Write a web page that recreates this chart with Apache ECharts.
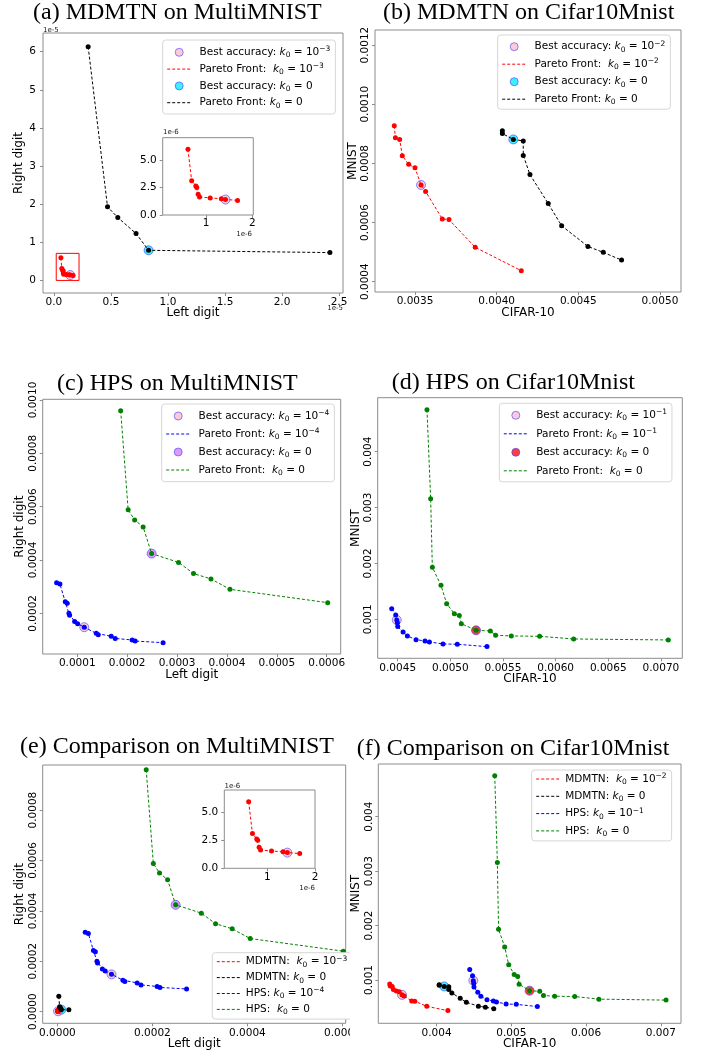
<!DOCTYPE html>
<html>
<head>
<meta charset="utf-8">
<title>Pareto fronts</title>
<script src="https://cdn.jsdelivr.net/npm/echarts@6/dist/echarts.min.js"></script>
<style>
    body { margin: 0; background: #fff; }
    #page { position: relative; width: 701px; height: 1052px; overflow: hidden; background: #fff; }
    .p { position: absolute; }
</style>
</head>
<body>
<div id="page">
    <div id="pa" class="p" style="left:0;top:0;width:350px;height:340px"></div>
    <div id="pb" class="p" style="left:347px;top:0;width:354px;height:340px"></div>
    <div id="pc" class="p" style="left:0;top:340px;width:350px;height:350px"></div>
    <div id="pd" class="p" style="left:347px;top:340px;width:354px;height:350px"></div>
    <div id="pe" class="p" style="left:0;top:680px;width:350px;height:372px"></div>
    <div id="pf" class="p" style="left:347px;top:680px;width:354px;height:372px"></div>
</div>
<script>
// ---- MDMTN on MultiMNIST ----
// k0 = 1e-3 (red)
var mmMdmtnK3X = [0.61e-6, 0.69e-6, 0.78e-6, 0.80e-6, 0.83e-6, 0.86e-6, 1.09e-6, 1.33e-6, 1.42e-6, 1.68e-6];
var mmMdmtnK3Y = [5.95e-6, 3.10e-6, 2.63e-6, 2.50e-6, 1.88e-6, 1.63e-6, 1.55e-6, 1.47e-6, 1.41e-6, 1.32e-6];
// k0 = 0 (black)
var mmMdmtnK0X = [0.30e-5, 0.47e-5, 0.56e-5, 0.72e-5, 0.83e-5, 2.42e-5];
var mmMdmtnK0Y = [6.13e-5, 1.93e-5, 1.65e-5, 1.23e-5, 0.79e-5, 0.73e-5];
var mmMdmtnBestK3 = [1.42e-6, 1.40e-6];
var mmMdmtnBestK0 = [0.83e-5, 0.79e-5];
// red box around the zoomed part
var zoomBoxX = [0.02e-5, 0.22e-5];
var zoomBoxY = [0, 0.71e-5];

// ---- HPS on MultiMNIST ----
// k0 = 1e-4 (blue)
var mmHpsK4X = [0.0000586, 0.0000652, 0.0000759, 0.0000799, 0.0000833, 0.0000846, 0.0000947, 0.0001007,
    0.000114, 0.000138, 0.000142, 0.000168, 0.000176, 0.000210, 0.000216, 0.000272];
var mmHpsK4Y = [0.000315, 0.000310, 0.000243, 0.000238, 0.000200, 0.000193, 0.000169, 0.000161,
    0.000148, 0.000125, 0.000120, 0.000114, 0.000106, 0.000100, 0.000096, 0.000090];
// k0 = 0 (green)
var mmHpsK0X = [0.000187, 0.000202, 0.000215, 0.000232, 0.000249, 0.000303, 0.000333, 0.000368, 0.000406, 0.000602];
var mmHpsK0Y = [0.000960, 0.000588, 0.000550, 0.000524, 0.000424, 0.000391, 0.000349, 0.000329, 0.000290, 0.000240];
var mmHpsBestK4 = [0.000114, 0.000148];
var mmHpsBestK0 = [0.000249, 0.000424];

// ---- MDMTN on Cifar10Mnist ----
// k0 = 1e-2 (red)
var cmMdmtnK2X = [0.003373, 0.003380, 0.003406, 0.003422, 0.003461, 0.003500, 0.003537, 0.003565,
    0.003667, 0.003708, 0.003869, 0.004151];
var cmMdmtnK2Y = [0.000927, 0.000887, 0.000881, 0.000826, 0.000797, 0.000785, 0.000727, 0.000705,
    0.000612, 0.000610, 0.000516, 0.000437];
// k0 = 0 (black)
var cmMdmtnK0X = [0.004035, 0.004035, 0.004102, 0.004163, 0.004163, 0.004204, 0.004316, 0.004398,
    0.004559, 0.004653, 0.004765];
var cmMdmtnK0Y = [0.000910, 0.000901, 0.000881, 0.000876, 0.000827, 0.000762, 0.000664, 0.000589,
    0.000519, 0.000499, 0.000473];
var cmMdmtnBestK2 = [0.003537, 0.000727];
var cmMdmtnBestK0 = [0.004102, 0.000881];

// ---- HPS on Cifar10Mnist ----
// k0 = 1e-1 (blue)
var cmHpsK1X = [0.004443, 0.004481, 0.004491, 0.004497, 0.004500, 0.004551, 0.004592, 0.004674,
    0.004759, 0.004801, 0.004930, 0.005066, 0.005348];
var cmHpsK1Y = [0.001191, 0.001078, 0.000988, 0.000940, 0.000869, 0.000773, 0.000702, 0.000636,
    0.000612, 0.000595, 0.000559, 0.000553, 0.000511];
// k0 = 0 (green)
var cmHpsK0X = [0.004778, 0.004813, 0.004829, 0.004911, 0.004965, 0.005038, 0.005085, 0.005104,
    0.005244, 0.005380, 0.005430, 0.005579, 0.005848, 0.006171, 0.007070];
var cmHpsK0Y = [0.004751, 0.003159, 0.001930, 0.001608, 0.001280, 0.001101, 0.001066, 0.000922,
    0.000803, 0.000791, 0.000714, 0.000702, 0.000696, 0.000648, 0.000630];
var cmHpsBestK1 = [0.004491, 0.000988];
var cmHpsBestK0 = [0.005244, 0.000803];

// ---- ticks ----
var aTickX = [0, 0.5e-5, 1.0e-5, 1.5e-5, 2.0e-5, 2.5e-5];
var aLabX = ['0.0', '0.5', '1.0', '1.5', '2.0', '2.5'];
var aTickY = [0, 1e-5, 2e-5, 3e-5, 4e-5, 5e-5, 6e-5];
var aLabY = ['0', '1', '2', '3', '4', '5', '6'];
var zoomTickX = [1e-6, 2e-6];
var zoomLabX = ['1', '2'];
var zoomTickY = [0, 2.5e-6, 5e-6];
var zoomLabY = ['0.0', '2.5', '5.0'];
var bTickX = [0.0035, 0.004, 0.0045, 0.005];
var bLabX = ['0.0035', '0.0040', '0.0045', '0.0050'];
var bTickY = [0.0004, 0.0006, 0.0008, 0.001, 0.0012];
var bLabY = ['0.0004', '0.0006', '0.0008', '0.0010', '0.0012'];
var cTickX = [0.0001, 0.0002, 0.0003, 0.0004, 0.0005, 0.0006];
var cLabX = ['0.0001', '0.0002', '0.0003', '0.0004', '0.0005', '0.0006'];
var cTickY = [0.0002, 0.0004, 0.0006, 0.0008, 0.001];
var cLabY = ['0.0002', '0.0004', '0.0006', '0.0008', '0.0010'];
var dTickX = [0.0045, 0.005, 0.0055, 0.006, 0.0065, 0.007];
var dLabX = ['0.0045', '0.0050', '0.0055', '0.0060', '0.0065', '0.0070'];
var dTickY = [0.001, 0.002, 0.003, 0.004];
var dLabY = ['0.001', '0.002', '0.003', '0.004'];
var eTickX = [0, 0.0002, 0.0004, 0.0006];
var eLabX = ['0.0000', '0.0002', '0.0004', '0.0006'];
var eTickY = [0, 0.0002, 0.0004, 0.0006, 0.0008];
var eLabY = ['0.0000', '0.0002', '0.0004', '0.0006', '0.0008'];
var fTickX = [0.004, 0.005, 0.006, 0.007];
var fLabX = ['0.004', '0.005', '0.006', '0.007'];
var fTickY = [0.001, 0.002, 0.003, 0.004];
var fLabY = ['0.001', '0.002', '0.003', '0.004'];

var SPINE = '#8c8c8c';
var FONT = 'DejaVu Sans';
var PINK = 'rgba(255,178,198,0.85)';
var CYAN = 'rgba(0,235,255,0.95)';
var VIOLET = 'rgba(205,105,255,0.85)';
var REDFILL = 'rgba(255,0,0,0.95)';
var RING = 'rgba(70,70,255,0.8)';

function pts(xs, ys) {
    return xs.map(function (x, i) { return [x, ys[i]]; });
}

// nearest tick -> label text
function pick(v, ticks, labels) {
    var k = 0;
    for (var i = 1; i < ticks.length; i++) {
        if (Math.abs(ticks[i] - v) < Math.abs(ticks[k] - v)) k = i;
    }
    return labels[k];
}

function axis(gi, min, max, ticks, labels, o) {
    o = o || {};
    return {
        type: 'value', gridIndex: gi, min: min, max: max,
        name: o.name || '', nameLocation: 'middle', nameGap: o.nameGap || 15, nameMoveOverlap: false,
        nameTextStyle: {fontFamily: FONT, fontSize: 12, color: '#000'},
        splitLine: {show: false},
        axisLine: {show: false, onZero: false},
        axisTick: {show: true, length: 3, customValues: ticks, lineStyle: {color: SPINE, width: 1}},
        axisLabel: {
            customValues: ticks, rotate: o.rotate || 0, margin: o.margin == null ? 4 : o.margin,
            fontFamily: FONT, fontSize: 10.5, color: '#000',
            formatter: function (v) { return pick(v, ticks, labels); }
        }
    };
}

function grid(left, top, width, height, bg) {
    return {
        left: left, top: top, width: width, height: height, containLabel: false, outerBoundsMode: 'none',
        show: true, borderColor: SPINE, borderWidth: 1, backgroundColor: bg || 'transparent'
    };
}

function title(text, left, top) {
    return {
        text: text, left: left, top: top, padding: 0,
        textStyle: {fontFamily: 'Liberation Serif', fontSize: 24, fontWeight: 'normal', color: '#000', lineHeight: 26}
    };
}

// dashed pareto front with its points
function front(name, xs, ys, color, gi) {
    return {
        type: 'line', name: name, xAxisIndex: gi || 0, yAxisIndex: gi || 0,
        data: pts(xs, ys), symbol: 'circle', symbolSize: 5, showAllSymbol: true,
        lineStyle: {width: 1, type: [3, 2], color: color},
        itemStyle: {color: color}, silent: true, z: 3
    };
}

// best accuracy marker
function best(name, p, fill, gi) {
    return {
        type: 'scatter', name: name, xAxisIndex: gi || 0, yAxisIndex: gi || 0,
        data: [p], symbol: 'circle', symbolSize: 9,
        itemStyle: {color: fill, borderColor: RING, borderWidth: 1}, silent: true, z: 2
    };
}

// "k0" and "^-3" become rich text
function legendText(name) {
    return name.replace('k0', '{i|k}{sub|0}').replace(/\^-(\d)/, '{sup|\u2212$1}');
}

function legend(names, left, top, pad, gap, lead) {
    return {
        show: true, orient: 'vertical', left: left, top: top, padding: pad, itemGap: gap,
        itemWidth: 24, itemHeight: 8, selectedMode: false,
        backgroundColor: '#fff', borderColor: '#d6d6d6', borderWidth: 1, borderRadius: 3,
        itemStyle: {borderWidth: 1},
        lineStyle: {width: 1},
        data: names.map(function (n) {
            return n.indexOf('Best') === 0 ? {name: n} : {name: n, itemStyle: {opacity: 0}};
        }),
        formatter: function (n) { return (lead ? ' ' : '') + legendText(n); },
        textStyle: {
            fontFamily: FONT, fontSize: 10.5, color: '#000', lineHeight: 14,
            rich: {
                i: {fontFamily: FONT, fontStyle: 'italic', fontSize: 10.5, lineHeight: 14},
                sub: {fontFamily: FONT, fontSize: 7.5, lineHeight: 7, verticalAlign: 'bottom'},
                sup: {fontFamily: FONT, fontSize: 7.5, lineHeight: 7, verticalAlign: 'top'}
            }
        }
    };
}

function note(text, x, y, align) {
    return {
        type: 'text', x: x, y: y, silent: true,
        style: {text: text, fontFamily: FONT, fontSize: 7, fill: '#222', align: align || 'left', verticalAlign: 'top'}
    };
}

function show(id, option) {
    var chart = echarts.init(document.getElementById(id));
    option.animation = false;
    chart.setOption(option);
    return chart;
}

// (a)
var redFront = front('Pareto Front:  k0 = 10^-3', mmMdmtnK3X, mmMdmtnK3Y, '#ff0000', 0);
redFront.markArea = {
    silent: true,
    itemStyle: {color: 'rgba(0,0,0,0)', borderColor: '#ff0000', borderWidth: 1},
    data: [[{coord: [zoomBoxX[0], zoomBoxY[0]]}, {coord: [zoomBoxX[1], zoomBoxY[1]]}]]
};
show('pa', {
    title: title('(a) MDMTN on MultiMNIST', 33, 0),
    grid: [grid(43, 33, 300, 260), grid(162.7, 137.7, 90.6, 77.3, '#fff')],
    xAxis: [
        axis(0, -0.096e-5, 2.535e-5, aTickX, aLabX, {name: 'Left digit', nameGap: 14}),
        axis(1, 0.065e-6, 2.02e-6, zoomTickX, zoomLabX, {margin: 3})
    ],
    yAxis: [
        axis(0, -0.33e-5, 6.49e-5, aTickY, aLabY, {name: 'Right digit', nameGap: 18, margin: 7}),
        axis(1, 0, 7e-6, zoomTickY, zoomLabY, {margin: 6})
    ],
    legend: legend(['Best accuracy: k0 = 10^-3', 'Pareto Front:  k0 = 10^-3', 'Best accuracy: k0 = 0', 'Pareto Front: k0 = 0'],
        162.7, 40, [5.3, 5, 4.3, 4], 2.8, true),
    series: [
        best('Best accuracy: k0 = 10^-3', mmMdmtnBestK3, PINK, 0),
        best('Best accuracy: k0 = 0', mmMdmtnBestK0, CYAN, 0),
        redFront,
        front('Pareto Front: k0 = 0', mmMdmtnK0X, mmMdmtnK0Y, '#000000', 0),
        best('zoom best', mmMdmtnBestK3, PINK, 1),
        front('zoom front', mmMdmtnK3X, mmMdmtnK3Y, '#ff0000', 1)
    ],
    graphic: [note('1e-5', 43, 27), note('1e-5', 343, 305, 'right'), note('1e-6', 163, 129), note('1e-6', 252, 231, 'right')]
});

// (b)
show('pb', {
    title: title('(b) MDMTN on Cifar10Mnist', 36, 0),
    grid: grid(28, 30, 306, 262),
    xAxis: axis(0, 0.003255, 0.005129, bTickX, bLabX, {name: 'CIFAR-10', nameGap: 15}),
    yAxis: axis(0, 0.000365, 0.001251, bTickY, bLabY, {name: 'MNIST', nameGap: 16, rotate: 90}),
    legend: legend(['Best accuracy: k0 = 10^-2', 'Pareto Front:  k0 = 10^-2', 'Best accuracy: k0 = 0', 'Pareto Front: k0 = 0'],
        150.7, 35, [4.7, 5, 3, 4], 3.5, true),
    series: [
        best('Best accuracy: k0 = 10^-2', cmMdmtnBestK2, PINK),
        best('Best accuracy: k0 = 0', cmMdmtnBestK0, CYAN),
        front('Pareto Front:  k0 = 10^-2', cmMdmtnK2X, cmMdmtnK2Y, '#ff0000'),
        front('Pareto Front: k0 = 0', cmMdmtnK0X, cmMdmtnK0Y, '#000000')
    ]
});

// (c)
show('pc', {
    title: title('(c) HPS on MultiMNIST', 57, 30.3),
    grid: grid(42.7, 59.3, 298, 254.7),
    xAxis: axis(0, 0.0000307, 0.000628, cTickX, cLabX, {name: 'Left digit', nameGap: 15}),
    yAxis: axis(0, 0.0000475, 0.0010025, cTickY, cLabY, {name: 'Right digit', nameGap: 17, rotate: 90}),
    legend: legend(['Best accuracy: k0 = 10^-4', 'Pareto Front: k0 = 10^-4', 'Best accuracy: k0 = 0', 'Pareto Front:  k0 = 0'],
        161.7, 64, [5, 5, 4.7, 4], 4, true),
    series: [
        best('Best accuracy: k0 = 10^-4', mmHpsBestK4, PINK),
        best('Best accuracy: k0 = 0', mmHpsBestK0, VIOLET),
        front('Pareto Front: k0 = 10^-4', mmHpsK4X, mmHpsK4Y, '#0000ff'),
        front('Pareto Front:  k0 = 0', mmHpsK0X, mmHpsK0Y, '#008000')
    ]
});

// (d)
show('pd', {
    title: title('(d) HPS on Cifar10Mnist', 44.7, 29.3),
    grid: grid(30.7, 57.7, 304.6, 260.6),
    xAxis: axis(0, 0.00431, 0.007203, dTickX, dLabX, {name: 'CIFAR-10', nameGap: 15}),
    yAxis: axis(0, 0.000302, 0.004966, dTickY, dLabY, {name: 'MNIST', nameGap: 16, rotate: 90}),
    legend: legend(['Best accuracy: k0 = 10^-1', 'Pareto Front: k0 = 10^-1', 'Best accuracy: k0 = 0', 'Pareto Front:  k0 = 0'],
        152.3, 63.3, [5, 5, 4, 4], 4.5, true),
    series: [
        best('Best accuracy: k0 = 10^-1', cmHpsBestK1, PINK),
        best('Best accuracy: k0 = 0', cmHpsBestK0, REDFILL),
        front('Pareto Front: k0 = 10^-1', cmHpsK1X, cmHpsK1Y, '#0000ff'),
        front('Pareto Front:  k0 = 0', cmHpsK0X, cmHpsK0Y, '#008000')
    ]
});

// (e)
show('pe', {
    title: title('(e) Comparison on MultiMNIST', 20, 53.7),
    grid: [grid(42.7, 85, 303, 258.3), grid(224.3, 110, 90.7, 78.3, '#fff')],
    xAxis: [
        axis(0, -0.0000309, 0.000607, eTickX, eLabX, {name: 'Left digit', nameGap: 15}),
        axis(1, 0.1e-6, 2.0e-6, zoomTickX, zoomLabX, {margin: 3})
    ],
    yAxis: [
        axis(0, -0.0000463, 0.000979, eTickY, eLabY, {name: 'Right digit', nameGap: 17, rotate: 90}),
        axis(1, 0, 7e-6, zoomTickY, zoomLabY, {margin: 6})
    ],
    legend: legend(['MDMTN:  k0 = 10^-3', 'MDMTN: k0 = 0', 'HPS: k0 = 10^-4', 'HPS:  k0 = 0'],
        212.3, 272.7, [2, 5, 2.7, 4], 1.9, false),
    series: [
        best('best mdmtn k3', mmMdmtnBestK3, PINK),
        best('best mdmtn k0', mmMdmtnBestK0, CYAN),
        best('best hps k4', mmHpsBestK4, PINK),
        best('best hps k0', mmHpsBestK0, VIOLET),
        front('MDMTN:  k0 = 10^-3', mmMdmtnK3X, mmMdmtnK3Y, '#ff0000'),
        front('MDMTN: k0 = 0', mmMdmtnK0X, mmMdmtnK0Y, '#000000'),
        front('HPS: k0 = 10^-4', mmHpsK4X, mmHpsK4Y, '#0000ff'),
        front('HPS:  k0 = 0', mmHpsK0X, mmHpsK0Y, '#008000'),
        best('zoom best', mmMdmtnBestK3, PINK, 1),
        front('zoom front', mmMdmtnK3X, mmMdmtnK3Y, '#ff0000', 1)
    ],
    graphic: [note('1e-6', 224.5, 103), note('1e-6', 315, 205, 'right')]
});

// (f)
show('pf', {
    title: title('(f) Comparison on Cifar10Mnist', 9.7, 55.3),
    grid: grid(31.3, 84, 302.7, 259.3),
    xAxis: axis(0, 0.00322, 0.00727, fTickX, fLabX, {name: 'CIFAR-10', nameGap: 15}),
    yAxis: axis(0, 0.000204, 0.004968, fTickY, fLabY, {name: 'MNIST', nameGap: 16, rotate: 90}),
    legend: legend(['MDMTN:  k0 = 10^-2', 'MDMTN: k0 = 0', 'HPS: k0 = 10^-1', 'HPS:  k0 = 0'],
        184.7, 90, [2, 5, 3, 4], 3.3, false),
    series: [
        best('best mdmtn k2', cmMdmtnBestK2, PINK),
        best('best mdmtn k0', cmMdmtnBestK0, CYAN),
        best('best hps k1', cmHpsBestK1, PINK),
        best('best hps k0', cmHpsBestK0, REDFILL),
        front('MDMTN:  k0 = 10^-2', cmMdmtnK2X, cmMdmtnK2Y, '#ff0000'),
        front('MDMTN: k0 = 0', cmMdmtnK0X, cmMdmtnK0Y, '#000000'),
        front('HPS: k0 = 10^-1', cmHpsK1X, cmHpsK1Y, '#0000ff'),
        front('HPS:  k0 = 0', cmHpsK0X, cmHpsK0Y, '#008000')
    ]
});
</script>
</body>
</html>
